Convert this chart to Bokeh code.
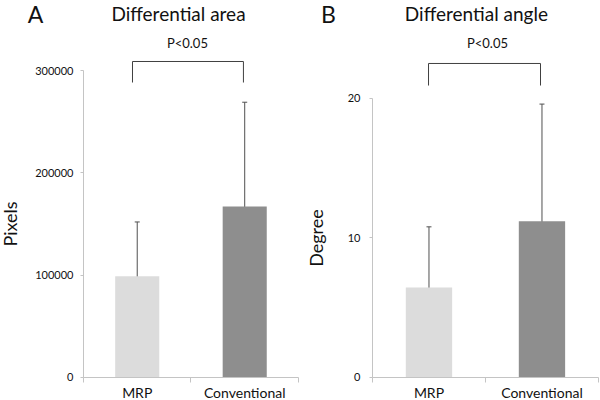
from bokeh.plotting import figure
from bokeh.models import (ColumnDataSource, Whisker, TeeHead, FixedTicker, Range1d,
                          BasicTickFormatter, Label)
from bokeh.layouts import row
from bokeh.embed import file_html
from bokeh.resources import INLINE

# ---- data ----
categories = ["MRP", "Conventional"]
area_mean = [99000, 167000]
area_sd = [53000, 102000]
angle_mean = [6.45, 11.2]
angle_sd = [4.35, 8.4]
bar_colors = ["#dcdcdc", "#8e8e8e"]
area_ticks = [0, 100000, 200000, 300000]
angle_ticks = [0, 10, 20]
p_text = "P<0.05"

FONT = "Lato"
AXIS_COLOR = "#c4c4c4"
ERR_COLOR = "#505050"
TEXT_COLOR = "#111111"


def panel(letter, title, ylabel, means, sds, ticks, x_range, y_range,
          title_y, title_x, letter_x, p_x, p_y, br_x, br_top, br_bot,
          tick_standoff, lab_standoff):
    n = len(categories)
    xs = [i + 0.5 for i in range(n)]
    src = ColumnDataSource(dict(
        x=xs, top=means, color=bar_colors,
        upper=[m + s for m, s in zip(means, sds)],
        lower=[m - s for m, s in zip(means, sds)],
    ))
    p = figure(width=300, height=400, output_backend="svg", toolbar_location=None,
               x_range=Range1d(*x_range), y_range=Range1d(*y_range),
               min_border=0)
    p.outline_line_color = None
    p.grid.grid_line_color = None
    p.background_fill_color = "white"

    p.vbar(x="x", top="top", width=0.41, color="color", line_color=None, source=src)
    w = Whisker(base="x", upper="upper", lower="lower", source=src,
                line_color=ERR_COLOR, line_width=1,
                upper_head=TeeHead(size=5, line_color=ERR_COLOR, line_width=1),
                lower_head=TeeHead(size=5, line_color=ERR_COLOR, line_width=1))
    p.add_layout(w)

    # significance bracket
    p.line(x=[br_x[0], br_x[0], br_x[1], br_x[1]], y=[br_bot, br_top, br_top, br_bot],
           line_color="#404040", line_width=1)
    p.add_layout(Label(x=p_x, y=p_y, text=p_text, text_align="center",
                       text_baseline="middle", text_font=FONT, text_font_size="13px",
                       text_color=TEXT_COLOR))
    p.add_layout(Label(x=title_x, y=title_y, text=title, text_align="center",
                       text_baseline="middle", text_font=FONT, text_font_size="19px",
                       text_color=TEXT_COLOR))
    p.add_layout(Label(x=letter_x, y=title_y, text=letter, text_align="center",
                       text_baseline="middle", text_font=FONT, text_font_size="23px",
                       text_color=TEXT_COLOR))

    # x axis, drawn at y = 0 inside the frame
    xa = p.xaxis[0]
    xa.fixed_location = 0
    xa.ticker = FixedTicker(ticks=xs, minor_ticks=list(range(n + 1)))
    xa.bounds = (0, n)
    xa.major_label_overrides = {x: c for x, c in zip(xs, categories)}
    xa.major_tick_line_color = None
    xa.major_tick_out = 0
    xa.major_tick_in = 0
    xa.minor_tick_line_color = AXIS_COLOR
    xa.minor_tick_out = 5
    xa.minor_tick_in = 0
    xa.axis_line_color = AXIS_COLOR
    xa.major_label_text_font = FONT
    xa.major_label_text_font_size = "14px"
    xa.major_label_text_color = TEXT_COLOR
    xa.major_label_standoff = 2

    # y axis, drawn at x = 0 inside the frame
    ya = p.yaxis[0]
    ya.fixed_location = 0
    ya.ticker = FixedTicker(ticks=ticks)
    ya.bounds = (ticks[0], ticks[-1])
    ya.formatter = BasicTickFormatter(use_scientific=False)
    ya.major_tick_line_color = AXIS_COLOR
    ya.major_tick_out = 3
    ya.major_tick_in = 0
    ya.minor_tick_line_color = None
    ya.axis_line_color = AXIS_COLOR
    ya.major_label_text_font = FONT
    ya.major_label_text_font_size = "11px"
    ya.major_label_text_color = TEXT_COLOR
    ya.major_label_standoff = tick_standoff
    ya.axis_label = ylabel
    ya.axis_label_text_font = FONT
    ya.axis_label_text_font_size = "18px"
    ya.axis_label_text_font_style = "normal"
    ya.axis_label_text_color = TEXT_COLOR
    ya.axis_label_standoff = lab_standoff
    return p


pa = panel("A", "Differential area", "Pixels", area_mean, area_sd, area_ticks,
           x_range=(-0.772, 2.019), y_range=(-22476, 368404),
           title_y=355700, title_x=0.884, letter_x=-0.4465, p_x=0.967, p_y=327360,
           br_x=(0.456, 1.488), br_top=308800, br_bot=288270,
           tick_standoff=7, lab_standoff=11)
pb = panel("B", "Differential angle", "Degree", angle_mean, angle_sd, angle_ticks,
           x_range=(-0.637, 2.018), y_range=(-1.649, 27.025),
           title_y=26.09, title_x=0.920, letter_x=-0.389, p_x=1.018, p_y=24.01,
           br_x=(0.496, 1.487), br_top=22.51, br_bot=20.93,
           tick_standoff=9, lab_standoff=18)

layout = row(pa, pb, spacing=0)
open("out.html", "w").write(file_html(layout, INLINE))
